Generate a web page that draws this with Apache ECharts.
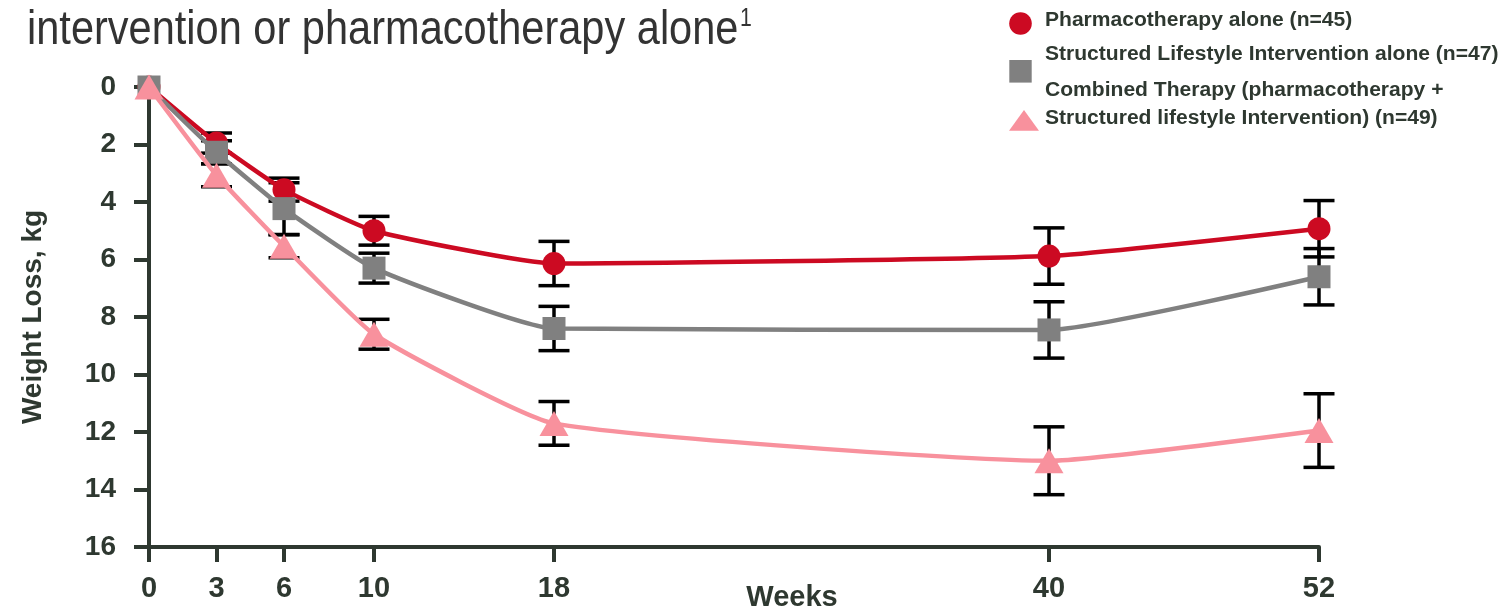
<!DOCTYPE html>
<html>
<head>
<meta charset="utf-8">
<script src="https://cdn.jsdelivr.net/npm/echarts@6/dist/echarts.min.js"></script>
<style>html,body{margin:0;padding:0;background:#fff}#c{width:1511px;height:610px}</style>
</head>
<body>
<div id="c"></div>
<script>
// ---- data ----
const weeks = [0, 3, 6, 10, 18, 40, 52];
const seriesNames = [
  'Pharmacotherapy alone (n=45)',
  'Structured Lifestyle Intervention alone (n=47)',
  'Combined Therapy (pharmacotherapy +\nStructured lifestyle Intervention) (n=49)'
];
const pharmaLoss    = [0, 1.95, 3.57, 5.0, 6.14, 5.88, 4.93];
const lifestyleLoss = [0, 2.27, 4.23, 6.3, 8.4, 8.45, 6.6];
const combinedLoss  = [0, 3.07, 5.54, 8.6, 11.7, 13.0, 11.95];
const pharmaErr     = [0, 0.35, 0.4, 0.5, 0.77, 0.98, 0.98];
const lifestyleErr  = [0, 0.4, 0.9, 0.52, 0.77, 0.98, 0.98];
const combinedErr   = [0, 0.4, 0.4, 0.52, 0.76, 1.18, 1.28];
const titleText = 'intervention or pharmacotherapy alone';
const titleSup = '1';
const xAxisName = 'Weeks';
const yAxisName = 'Weight Loss, kg';

// ---- styles ----
const FONT = "'Liberation Sans', Arial, Helvetica, sans-serif";
const axisColor = '#2e3830';
const textColor = '#2e3830';
const colors = ['#cc0a22', '#808080', '#f8919d'];

const chart = echarts.init(document.getElementById('c'), null, {renderer: 'canvas'});

function lineSeries(name, vals, color, symbol, size, z) {
  return {
    name: name, type: 'line',
    data: weeks.map((w, i) => [w, vals[i]]),
    smooth: 0.15, symbol: symbol, symbolSize: size, showAllSymbol: true,
    lineStyle: {color: color, width: 4.5},
    itemStyle: {color: color, opacity: 1},
    z: z, silent: true, animation: false
  };
}

function errSeries(vals, errs, z) {
  const data = [];
  weeks.forEach((w, i) => { if (errs[i] > 0) data.push([w, vals[i] - errs[i], vals[i] + errs[i]]); });
  return {
    type: 'custom', z: z, silent: true, animation: false,
    data: data,
    encode: {x: 0, y: [1, 2]},
    renderItem: function (params, api) {
      const x = api.value(0);
      const lo = api.coord([x, api.value(1)]);
      const hi = api.coord([x, api.value(2)]);
      const hw = 15.5;
      const st = {stroke: '#000', lineWidth: 3.5, fill: null};
      return {type: 'group', children: [
        {type: 'line', shape: {x1: lo[0], y1: lo[1], x2: hi[0], y2: hi[1]}, style: st},
        {type: 'line', shape: {x1: lo[0] - hw, y1: lo[1], x2: lo[0] + hw, y2: lo[1]}, style: st},
        {type: 'line', shape: {x1: hi[0] - hw, y1: hi[1], x2: hi[0] + hw, y2: hi[1]}, style: st}
      ]};
    }
  };
}

function legendText(txt, x, y) {
  return {
    type: 'text', x: x, y: y, scaleX: 1.08, silent: true,
    style: {text: txt, fontSize: 19.5, fontWeight: 'bold', fontFamily: FONT, fill: textColor,
            textAlign: 'left', align: 'left', textVerticalAlign: 'middle', verticalAlign: 'middle',
            lineHeight: 27.6}
  };
}

const option = {
  backgroundColor: '#fff',
  animation: false,
  textStyle: {fontFamily: FONT},
  grid: {left: 149, right: 192, top: 87, bottom: 63, containLabel: false, outerBoundsMode: 'none'},
  xAxis: {
    type: 'value', min: 0, max: 52, position: 'bottom',
    axisLine: {show: true, onZero: false, lineStyle: {color: axisColor, width: 4}},
    axisTick: {show: true, length: 15, customValues: weeks, lineStyle: {color: axisColor, width: 4}},
    axisLabel: {customValues: weeks, fontSize: 29, fontWeight: 'bold', color: textColor, margin: 27, fontFamily: FONT},
    splitLine: {show: false}
  },
  yAxis: {
    type: 'value', inverse: true, min: 0, max: 16, interval: 2,
    name: yAxisName, nameLocation: 'middle', nameGap: 102, nameRotate: 90,
    nameTextStyle: {fontSize: 28, fontWeight: 'bold', color: textColor, fontFamily: FONT},
    axisLine: {show: true, onZero: false, lineStyle: {color: axisColor, width: 4}},
    axisTick: {show: true, length: 15, lineStyle: {color: axisColor, width: 4}},
    axisLabel: {fontSize: 28, fontWeight: 'bold', color: textColor, margin: 33, fontFamily: FONT},
    splitLine: {show: false}
  },
  series: [
    errSeries(pharmaLoss, pharmaErr, 1),
    errSeries(lifestyleLoss, lifestyleErr, 1),
    errSeries(combinedLoss, combinedErr, 1),
    lineSeries(seriesNames[0], pharmaLoss, colors[0], 'circle', 23, 2),
    lineSeries(seriesNames[1], lifestyleLoss, colors[1], 'rect', 23, 3),
    lineSeries(seriesNames[2], combinedLoss, colors[2], 'triangle', [29, 25], 4)
  ],
  graphic: [
    // title (cropped second line)
    {type: 'text', x: 27, y: 30, scaleX: 0.848, silent: true,
     style: {text: titleText, fontSize: 49, fontFamily: FONT, fill: '#333333',
             textAlign: 'left', align: 'left', textVerticalAlign: 'middle', verticalAlign: 'middle'}},
    {type: 'text', x: 740, y: 19, scaleX: 0.848, silent: true,
     style: {text: titleSup, fontSize: 25, fontFamily: FONT, fill: '#333333',
             textAlign: 'left', align: 'left', textVerticalAlign: 'middle', verticalAlign: 'middle'}},
    // x axis title
    {type: 'text', x: 792, y: 598, silent: true,
     style: {text: xAxisName, fontSize: 29, fontWeight: 'bold', fontFamily: FONT, fill: textColor,
             textAlign: 'center', align: 'center', textVerticalAlign: 'middle', verticalAlign: 'middle'}},
    // legend
    {type: 'circle', silent: true, shape: {cx: 1020.5, cy: 23.5, r: 11.3}, style: {fill: colors[0]}},
    {type: 'rect', silent: true, shape: {x: 1009.3, y: 60, width: 22.4, height: 22.6}, style: {fill: colors[1]}},
    {type: 'polygon', silent: true, shape: {points: [[1009, 130.7], [1039, 130.7], [1024, 110]]}, style: {fill: colors[2]}},
    legendText(seriesNames[0], 1045, 21),
    legendText(seriesNames[1], 1045, 55),
    legendText(seriesNames[2], 1045, 104.5)
  ]
};
chart.setOption(option);
</script>
</body>
</html>
